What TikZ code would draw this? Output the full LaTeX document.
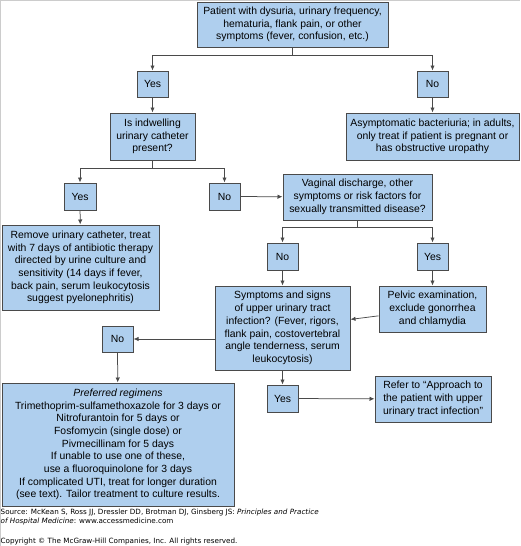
\documentclass[tikz,border=0pt]{standalone}
\usepackage{fontspec}
\setmainfont{Liberation Sans}
\newfontfamily\notefont{DejaVu Sans}
\usetikzlibrary{arrows.meta}
\definecolor{boxblue}{HTML}{AFCFEE}
\definecolor{boxline}{HTML}{4A4A4A}
\tikzset{
	box/.style={draw=boxline, fill=boxblue, line width=1pt, align=center, inner sep=0pt,
		font=\fontsize{10.4}{12.7}\selectfont},
	arr/.style={draw=boxline, line width=0.75pt, -{Latex[length=5pt,width=4.4pt]}},
	note/.style={anchor=west, inner sep=0pt, align=left, font=\notefont\fontsize{7.2}{9}\selectfont}
}
\begin{document}
\begin{tikzpicture}[x=1pt,y=-1pt]
	
	\useasboundingbox (0,0) rectangle (520,546);
	\draw[black!20, line width=0.8pt] (0.4,546) -- (0.4,0.4) -- (520,0.4);
	
	% boxes
	\node[box, minimum width=191pt, minimum height=45pt] (patient) at (292.5,24.5)
		{Patient with dysuria, urinary frequency,\\hematuria, flank pain, or other\\symptoms (fever, confusion, etc.)};
	\node[box, minimum width=31pt, minimum height=26pt] (yesA) at (152.5,84) {Yes};
	\node[box, minimum width=31pt, minimum height=26pt] (noA) at (432.5,84) {No};
	\node[box, minimum width=85pt, minimum height=47pt] (cath) at (152.5,136.5)
		{Is indwelling\\urinary catheter\\present?};
	\node[box, minimum width=173pt, minimum height=47pt] (asym) at (432.5,136.5)
		{Asymptomatic bacteriuria; in adults,\\only treat if patient is pregnant or\\has obstructive uropathy};
	
	\node[box, minimum width=32pt, minimum height=27pt] (yesB) at (80,196.5) {Yes};
	\node[box, minimum width=157pt, minimum height=85pt] (remove) at (80.5,267.5)
		{Remove urinary catheter, treat\\with 7 days of antibiotic therapy\\directed by urine culture and\\sensitivity (14 days if fever,\\back pain, serum leukocytosis\\suggest pyelonephritis)};
	\node[box, minimum width=31pt, minimum height=27pt] (noB) at (224.5,196.5) {No};
	\node[box, minimum width=149pt, minimum height=46pt] (vag) at (357.5,197)
		{Vaginal discharge, other\\symptoms or risk factors for\\sexually transmitted disease?};
	
	\node[box, minimum width=31pt, minimum height=27pt] (noC) at (282.5,256.5) {No};
	\node[box, minimum width=31pt, minimum height=27pt] (yesC) at (432.5,256.5) {Yes};
	\node[box, minimum width=135pt, minimum height=84pt] (upper) at (282.5,328)
		{Symptoms and signs\\of upper urinary tract\\infection? (Fever, rigors,\\flank pain, costovertebral\\angle tenderness, serum\\leukocytosis)};
	\node[box, minimum width=107pt, minimum height=46pt] (pelvic) at (432.5,309)
		{Pelvic examination,\\exclude gonorrhea\\and chlamydia};
	
	\node[box, minimum width=31pt, minimum height=26pt] (noD) at (117.5,339) {No};
	\node[box, minimum width=232pt, minimum height=123pt] (regimen) at (118,444.5)
		{\textit{Preferred regimens}\\Trimethoprim-sulfamethoxazole for 3 days or\\Nitrofurantoin for 5 days or\\Fosfomycin (single dose) or\\Pivmecillinam for 5 days\\If unable to use one of these,\\use a fluoroquinolone for 3 days\\If complicated UTI, treat for longer duration\\(see text). Tailor treatment to culture results.};
	\node[box, minimum width=31pt, minimum height=27pt] (yesD) at (282.5,398.5) {Yes};
	\node[box, minimum width=116pt, minimum height=46pt] (refer) at (433,399)
		{Refer to ``Approach to\\the patient with upper\\urinary tract infection''};
	
	% connectors
	\draw[arr] (patient.south) -- ++(0,8) -| (yesA.north);
	\draw[arr] (patient.south) -- ++(0,8) -| (noA.north);
	\draw[arr] (yesA) -- (cath);
	\draw[arr] (noA) -- (asym);
	\draw[arr] (cath.south) -- ++(0,8) -| (yesB.north);
	\draw[arr] (cath.south) -- ++(0,8) -| (noB.north);
	\draw[arr] (yesB) -- (remove);
	\draw[arr] (noB) -- (vag);
	\draw[arr] (vag.south) -- ++(0,7) -| (noC.north);
	\draw[arr] (vag.south) -- ++(0,7) -| (yesC.north);
	\draw[arr] (noC) -- (upper);
	\draw[arr] (yesC) -- (pelvic);
	\draw[arr] (pelvic) -- (upper);
	\draw[arr] (upper.west |- noD) -- (noD.east);
	\draw[arr] (noD) -- (regimen);
	\draw[arr] (upper) -- (yesD);
	\draw[arr] (yesD) -- (refer);
	
	% source lines
	\node[note] (source) at (0.5,517.5)
		{Source: McKean S, Ross JJ, Dressler DD, Brotman DJ, Ginsberg JS: \textit{Principles and Practice}\\\textit{of Hospital Medicine}: www.accessmedicine.com};
	\node[note] (copy) at (0.5,542) {Copyright © The McGraw-Hill Companies, Inc. All rights reserved.};
	
\end{tikzpicture}
\end{document}
